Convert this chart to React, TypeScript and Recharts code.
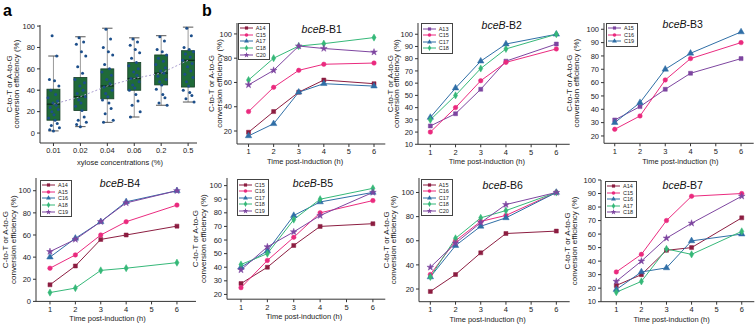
import React from "react";
import {
  ComposedChart,
  LineChart,
  Line,
  Bar,
  Scatter,
  XAxis,
  YAxis,
  Legend,
  Label,
  Symbols,
} from "recharts";

const FONT = '"Liberation Sans", Arial, sans-serif';
const AXIS = "#333";
const TEXT = "#222";

// ---------- panel a : xylose titration ----------
const CONCS = ["0.01", "0.02", "0.04", "0.06", "0.2", "0.5"];
const WHISK_LOW = [2, 6, 10, 15, 26, 29];
const Q1 = [12, 21, 32, 40, 45, 43];
const MEDIAN = [27, 34, 44, 51, 56, 68];
const Q3 = [41, 52, 60, 66, 73, 77];
const WHISK_HIGH = [72, 90, 98, 89, 91, 99];

const PTS_001 = [91, 72, 50, 49, 44, 40, 36, 33, 30, 28, 26, 24, 22, 20, 17, 14, 12, 9, 7, 5, 3, 2];
const PTS_002 = [89, 85, 83, 76, 72, 62, 56, 50, 47, 44, 40, 37, 34, 31, 28, 25, 21, 15, 12, 10, 8, 6];
const PTS_004 = [97, 88, 80, 76, 73, 64, 60, 57, 54, 50, 46, 43, 40, 37, 34, 31, 28, 23, 18, 12, 10];
const PTS_006 = [88, 85, 82, 78, 75, 70, 66, 63, 60, 57, 54, 51, 48, 45, 42, 40, 36, 30, 26, 20, 15];
const PTS_02 = [90, 86, 78, 76, 73, 70, 67, 64, 61, 58, 56, 53, 50, 48, 45, 41, 36, 33, 28, 26];
const PTS_05 = [98, 91, 80, 78, 76, 74, 71, 68, 65, 62, 58, 55, 52, 48, 44, 40, 38, 35, 32, 29];
// spread of the dots around each category centre (in category units)
const JITTER = [-0.05, 0.12, -0.15, 0.04, 0.2, -0.1, 0.08, -0.2, 0.15, -0.02, 0.1, -0.12, 0.18, -0.06, 0.02, -0.18, 0.06, 0.14, -0.08, 0.22, -0.14, 0.0];

// ---------- panel b : time courses ----------
const TIME = [1, 2, 3, 4, 6];
const X_TICKS = [1, 2, 3, 4, 5, 6];

const B1_A14 = [19, 36, 52, 62, 59];
const B1_C15 = [36, 56, 70, 75, 76];
const B1_A17 = [16, 26, 52, 59, 57];
const B1_C18 = [62, 80, 90, 92, 97];
const B1_C20 = [58, 70, 90, 88, 85];

const B2_A13 = [25, 35, 55, 78, 92];
const B2_C15 = [20, 40, 62, 77, 88];
const B2_C17 = [32, 56, 78, 92, 100];
const B2_C18 = [30, 50, 72, 88, 100];

const B3_A15 = [32, 42, 55, 67, 78];
const B3_C16 = [25, 35, 62, 78, 90];
const B3_C19 = [30, 45, 70, 82, 98];

const B4_A14 = [15, 32, 56, 60, 68];
const B4_A15 = [30, 42, 60, 72, 87];
const B4_C16 = [40, 57, 72, 90, 100];
const B4_A18 = [8, 12, 28, 30, 35];
const B4_C19 = [45, 56, 72, 89, 100];

const B5_C15 = [28, 40, 56, 70, 72];
const B5_C16 = [25, 45, 62, 80, 89];
const B5_C17 = [40, 52, 78, 88, 95];
const B5_C18 = [42, 50, 75, 90, 98];
const B5_C19 = [38, 55, 66, 78, 95];

const B6_A15 = [18, 32, 50, 66, 68];
const B6_C16 = [32, 60, 76, 81, 100];
const B6_C17 = [30, 56, 72, 79, 100];
const B6_C18 = [30, 62, 79, 85, 100];
const B6_C20 = [38, 58, 75, 90, 100];

const B7_A14 = [22, 30, 48, 50, 72];
const B7_C15 = [32, 45, 70, 88, 90];
const B7_C16 = [19, 32, 35, 55, 60];
const B7_A17 = [17, 25, 49, 45, 62];
const B7_C18 = [25, 40, 57, 68, 88];

const MAROON = "#8c1d40";
const PINK = "#ea2a7e";
const BLUE = "#2f6ea6";
const GREEN = "#35b878";
const PURPLE = "#7d45a0";

type Shape = "square" | "circle" | "triangle" | "diamond" | "star";
interface Series {
  name: string;
  color: string;
  shape: Shape;
  values: number[];
}

const B1: Series[] = [
  { name: "A14", color: MAROON, shape: "square", values: B1_A14 },
  { name: "C15", color: PINK, shape: "circle", values: B1_C15 },
  { name: "A17", color: BLUE, shape: "triangle", values: B1_A17 },
  { name: "C18", color: GREEN, shape: "diamond", values: B1_C18 },
  { name: "C20", color: PURPLE, shape: "star", values: B1_C20 },
];
const B2: Series[] = [
  { name: "A13", color: PURPLE, shape: "square", values: B2_A13 },
  { name: "C15", color: PINK, shape: "circle", values: B2_C15 },
  { name: "C17", color: BLUE, shape: "triangle", values: B2_C17 },
  { name: "C18", color: GREEN, shape: "diamond", values: B2_C18 },
];
const B3: Series[] = [
  { name: "A15", color: PURPLE, shape: "square", values: B3_A15 },
  { name: "C16", color: PINK, shape: "circle", values: B3_C16 },
  { name: "C19", color: BLUE, shape: "triangle", values: B3_C19 },
];
const B4: Series[] = [
  { name: "A14", color: MAROON, shape: "square", values: B4_A14 },
  { name: "A15", color: PINK, shape: "circle", values: B4_A15 },
  { name: "C16", color: BLUE, shape: "triangle", values: B4_C16 },
  { name: "A18", color: GREEN, shape: "diamond", values: B4_A18 },
  { name: "C19", color: PURPLE, shape: "star", values: B4_C19 },
];
const B5: Series[] = [
  { name: "C15", color: MAROON, shape: "square", values: B5_C15 },
  { name: "C16", color: PINK, shape: "circle", values: B5_C16 },
  { name: "C17", color: BLUE, shape: "triangle", values: B5_C17 },
  { name: "C18", color: GREEN, shape: "diamond", values: B5_C18 },
  { name: "C19", color: PURPLE, shape: "star", values: B5_C19 },
];
const B6: Series[] = [
  { name: "A15", color: MAROON, shape: "square", values: B6_A15 },
  { name: "C16", color: PINK, shape: "circle", values: B6_C16 },
  { name: "C17", color: BLUE, shape: "triangle", values: B6_C17 },
  { name: "C18", color: GREEN, shape: "diamond", values: B6_C18 },
  { name: "C20", color: PURPLE, shape: "star", values: B6_C20 },
];
const B7: Series[] = [
  { name: "A14", color: MAROON, shape: "square", values: B7_A14 },
  { name: "C15", color: PINK, shape: "circle", values: B7_C15 },
  { name: "C16", color: BLUE, shape: "triangle", values: B7_C16 },
  { name: "A17", color: GREEN, shape: "diamond", values: B7_A17 },
  { name: "C18", color: PURPLE, shape: "star", values: B7_C18 },
];

interface PanelCfg {
  id: string;
  rect: [number, number, number, number]; // plot area on the page
  xDomain: [number, number];
  yDomain: [number, number];
  yTicks: number[];
  series: Series[];
  yTitle: [number, number]; // x offsets of the two title lines from axis
  xTitle: [number, number]; // dx from plot centre, dy below axis
  title: [number, number];
  legend: [number, number];
}

const PANELS: PanelCfg[] = [
  { id: "B1", rect: [236.7, 23, 385, 144], xDomain: [0.54, 6.45], yDomain: [9.3, 109], yTicks: [20, 40, 60, 80, 100], series: B1, yTitle: [-25, -17.5], xTitle: [-6, 17.7], title: [321.7, 29.3], legend: [237.7, 23] },
  { id: "B2", rect: [418.3, 23, 570, 144.3], xDomain: [0.51, 6.53], yDomain: [10, 109.2], yTicks: [10, 20, 30, 40, 50, 60, 70, 80, 90, 100], series: B2, yTitle: [-27.6, -21], xTitle: [-7, 17.4], title: [501.7, 25], legend: [420.7, 23.3] },
  { id: "B3", rect: [604.3, 23, 754, 143.3], xDomain: [0.575, 6.5], yDomain: [14.5, 104.7], yTicks: [20, 30, 40, 50, 60, 70, 80, 90, 100], series: B3, yTitle: [-34, -27.3], xTitle: [1.5, 18.4], title: [682.7, 24], legend: [606, 23] },
  { id: "B4", rect: [36, 178.3, 196, 301.7], xDomain: [0.45, 6.75], yDomain: [0, 111.5], yTicks: [0, 20, 40, 60, 80, 100], series: B4, yTitle: [-30, -22.7], xTitle: [-8.5, 17.6], title: [120, 183.3], legend: [40, 180] },
  { id: "B5", rect: [226.7, 178.3, 385, 299.5], xDomain: [0.47, 6.47], yDomain: [16.5, 105.6], yTicks: [20, 30, 40, 50, 60, 70, 80, 90, 100], series: B5, yTitle: [-31.7, -24], xTitle: [-2, 17.2], title: [313, 182.7], legend: [236.7, 179.3] },
  { id: "B6", rect: [419.3, 178, 570, 301.7], xDomain: [0.55, 6.53], yDomain: [9.5, 112], yTicks: [20, 40, 60, 80, 100], series: B6, yTitle: [-32, -25], xTitle: [-6.7, 17.6], title: [502.7, 185], legend: [420.7, 179.3] },
  { id: "B7", rect: [600.7, 180, 754, 301.7], xDomain: [0.39, 6.5], yDomain: [10, 100], yTicks: [10, 20, 30, 40, 50, 60, 70, 80, 90, 100], series: B7, yTitle: [-34, -26.7], xTitle: [-6, 18.3], title: [682.7, 185], legend: [605, 180.7] },
];

const ML = 42;
const MR = 6;
const MT = 8;
const XH = 28;
const BOX_W = 13;

const TICK = { fontSize: 7.5, fill: TEXT, fontFamily: FONT };
const SYM_SIZE: Record<Shape, number> = { square: 16, circle: 16, triangle: 18, diamond: 15, star: 14 };

const Y_LINE_1 = "C-to-T or A-to-G";
const Y_LINE_2 = "conversion efficiency (%)";

const yTitle = (offs: [number, number]) => (p: any) => {
  const vb = p.viewBox || { x: 0, y: 0, width: ML, height: 100 };
  const ax = vb.x + vb.width;
  const cy = vb.y + vb.height / 2;
  return (
    <g>
      {[Y_LINE_1, Y_LINE_2].map((s, i) => (
        <text
          key={i}
          x={ax + offs[i]}
          y={cy}
          transform={`rotate(-90 ${ax + offs[i]} ${cy})`}
          textAnchor="middle"
          dominantBaseline="central"
          fontSize={8}
          fill={TEXT}
          fontFamily={FONT}
        >
          {s}
        </text>
      ))}
    </g>
  );
};

const xTitle = (text: string, off: [number, number]) => (p: any) => {
  const vb = p.viewBox || { x: 0, y: 0, width: 100, height: XH };
  return (
    <text
      x={vb.x + vb.width / 2 + off[0]}
      y={vb.y + off[1]}
      textAnchor="middle"
      dominantBaseline="central"
      fontSize={7.5}
      fill={TEXT}
      fontFamily={FONT}
    >
      {text}
    </text>
  );
};

const renderDot = (s: Series) => (p: any) => (
  <Symbols
    key={`${s.name}-${p.index}`}
    cx={p.cx}
    cy={p.cy}
    type={s.shape}
    size={SYM_SIZE[s.shape]}
    fill={s.color}
    stroke={s.color}
    strokeWidth={0.5}
  />
);

const LegendBox = ({ series }: { series: Series[] }) => (
  <div
    style={{
      border: "1px solid #444",
      background: "#fff",
      padding: "1px 3px 1px 1px",
      fontFamily: FONT,
      fontSize: 5.5,
      color: TEXT,
    }}
  >
    {series.map((s) => (
      <div key={s.name} style={{ display: "flex", alignItems: "center", height: 6.6 }}>
        <svg width={13} height={6} style={{ marginRight: 3 }}>
          <line x1={0} x2={13} y1={3} y2={3} stroke={s.color} strokeWidth={1} />
          <Symbols cx={6.5} cy={3} type={s.shape} size={10} fill={s.color} />
        </svg>
        <span>{s.name}</span>
      </div>
    ))}
  </div>
);

function LinePanel({ cfg }: { cfg: PanelCfg }) {
  const [x0, y0, x1, y1] = cfg.rect;
  const left = x0 - ML;
  const top = y0 - MT;
  const width = x1 - x0 + ML + MR;
  const height = y1 - y0 + MT + XH;
  const rows = TIME.map((t, i) => {
    const r: Record<string, number> = { t };
    cfg.series.forEach((s) => (r[s.name] = s.values[i]));
    return r;
  });
  return (
    <>
      <div style={{ position: "absolute", left, top }}>
        <LineChart
          width={width}
          height={height}
          data={rows}
          margin={{ top: MT, right: MR, left: 0, bottom: 0 }}
          style={{ overflow: "visible" }}
        >
          <XAxis
            type="number"
            dataKey="t"
            domain={cfg.xDomain}
            ticks={X_TICKS}
            allowDataOverflow
            interval={0}
            height={XH}
            tickSize={3}
            tickMargin={2}
            tick={TICK}
            stroke={AXIS}
          >
            <Label content={xTitle("Time post-induction (h)", cfg.xTitle)} />
          </XAxis>
          <YAxis
            type="number"
            domain={cfg.yDomain}
            ticks={cfg.yTicks}
            allowDataOverflow
            interval={0}
            width={ML}
            tickSize={3}
            tickMargin={2}
            tick={TICK}
            stroke={AXIS}
          >
            <Label content={yTitle(cfg.yTitle)} />
          </YAxis>
          <Legend
            layout="vertical"
            align="center"
            verticalAlign="middle"
            wrapperStyle={{ left: cfg.legend[0] - left, top: cfg.legend[1] - top, width: "auto" }}
            content={() => <LegendBox series={cfg.series} />}
          />
          {cfg.series.map((s) => (
            <Line
              key={s.name}
              type="linear"
              dataKey={s.name}
              stroke={s.color}
              strokeWidth={1}
              dot={renderDot(s)}
              activeDot={false}
              isAnimationActive={false}
            />
          ))}
        </LineChart>
      </div>
      <div
        style={{
          position: "absolute",
          left: cfg.title[0],
          top: cfg.title[1],
          transform: "translate(-50%, -50%)",
          fontSize: 10.5,
          fontWeight: "normal",
          whiteSpace: "nowrap",
          fontFamily: FONT,
          color: "#111",
        }}
      >
        <i>bceB</i>-{cfg.id}
      </div>
    </>
  );
}

// box + whiskers drawn from the whisker range bar; scale is linear between lo and hi
const BoxShape = (p: any) => {
  const { x, y, width, height, payload } = p;
  const [lo, hi] = payload.range as [number, number];
  const top = Math.min(y, y + height);
  const h = Math.abs(height);
  const yv = (v: number) => top + (h * (hi - v)) / (hi - lo);
  const cx = x + (width || 0) / 2;
  const bx = cx - BOX_W / 2;
  const cap = BOX_W * 0.4;
  return (
    <g>
      <line x1={cx} x2={cx} y1={yv(hi)} y2={yv(lo)} stroke="#9a9a9a" strokeWidth={1} />
      <line x1={cx - cap} x2={cx + cap} y1={yv(hi)} y2={yv(hi)} stroke="#555" strokeWidth={1} />
      <line x1={cx - cap} x2={cx + cap} y1={yv(lo)} y2={yv(lo)} stroke="#555" strokeWidth={1} />
      <rect
        x={bx}
        y={yv(payload.q3)}
        width={BOX_W}
        height={yv(payload.q1) - yv(payload.q3)}
        fill="#1f6a39"
        stroke="#173f27"
        strokeWidth={0.8}
      />
      <line x1={bx} x2={bx + BOX_W} y1={yv(payload.med)} y2={yv(payload.med)} stroke="#0c2b17" strokeWidth={1.2} />
    </g>
  );
};

const ScatterDot = (p: any) => <circle cx={p.cx} cy={p.cy} r={1.5} fill="#1c4e8a" />;

function BoxPanel() {
  const [x0, y0, x1, y1] = [40, 25, 197, 143];
  const left = x0 - ML;
  const top = y0 - MT;
  const width = x1 - x0 + ML + MR;
  const height = y1 - y0 + MT + XH;
  const boxes = CONCS.map((c, i) => ({
    pos: i,
    conc: c,
    range: [WHISK_LOW[i], WHISK_HIGH[i]],
    q1: Q1[i],
    med: MEDIAN[i],
    q3: Q3[i],
  }));
  const groups = [PTS_001, PTS_002, PTS_004, PTS_006, PTS_02, PTS_05];
  const points = groups.flatMap((arr, i) =>
    arr.map((v, j) => ({ pos: i + JITTER[j % JITTER.length], v }))
  );
  return (
    <div style={{ position: "absolute", left, top }}>
      <ComposedChart
        width={width}
        height={height}
        data={boxes}
        margin={{ top: MT, right: MR, left: 0, bottom: 0 }}
        style={{ overflow: "visible" }}
      >
        <XAxis
          type="number"
          dataKey="pos"
          domain={[-0.5, 5.33]}
          ticks={[0, 1, 2, 3, 4, 5]}
          tickFormatter={(v: number) => CONCS[v] ?? ""}
          allowDataOverflow
          interval={0}
          height={XH}
          tickSize={3}
          tickMargin={2}
          tick={TICK}
          stroke={AXIS}
        >
          <Label content={xTitle("xylose concentrations (%)", [1.5, 19])} />
        </XAxis>
        <YAxis
          type="number"
          domain={[-9.3, 101]}
          ticks={[0, 20, 40, 60, 80, 100]}
          allowDataOverflow
          interval={0}
          width={ML}
          tickSize={3}
          tickMargin={2}
          tick={TICK}
          stroke={AXIS}
        >
          <Label content={yTitle([-30.5, -24])} />
        </YAxis>
        <Line
          dataKey="med"
          stroke="#ab9fd0"
          strokeWidth={1}
          strokeDasharray="2 2"
          dot={false}
          activeDot={false}
          isAnimationActive={false}
        />
        <Bar dataKey="range" barSize={BOX_W} shape={BoxShape} isAnimationActive={false} />
        <Scatter data={points} dataKey="v" shape={ScatterDot} isAnimationActive={false} />
      </ComposedChart>
    </div>
  );
}

export default function App() {
  return (
    <div
      style={{
        position: "absolute",
        left: 0,
        top: 0,
        width: 756,
        height: 327,
        background: "#fff",
        fontFamily: FONT,
        overflow: "hidden",
      }}
    >
      <div style={{ position: "absolute", left: 3, top: 2, fontSize: 16, fontWeight: "bold", fontFamily: FONT }}>a</div>
      <div style={{ position: "absolute", left: 202, top: 2, fontSize: 16, fontWeight: "bold", fontFamily: FONT }}>b</div>
      <BoxPanel />
      {PANELS.map((cfg) => (
        <LinePanel key={cfg.id} cfg={cfg} />
      ))}
    </div>
  );
}
